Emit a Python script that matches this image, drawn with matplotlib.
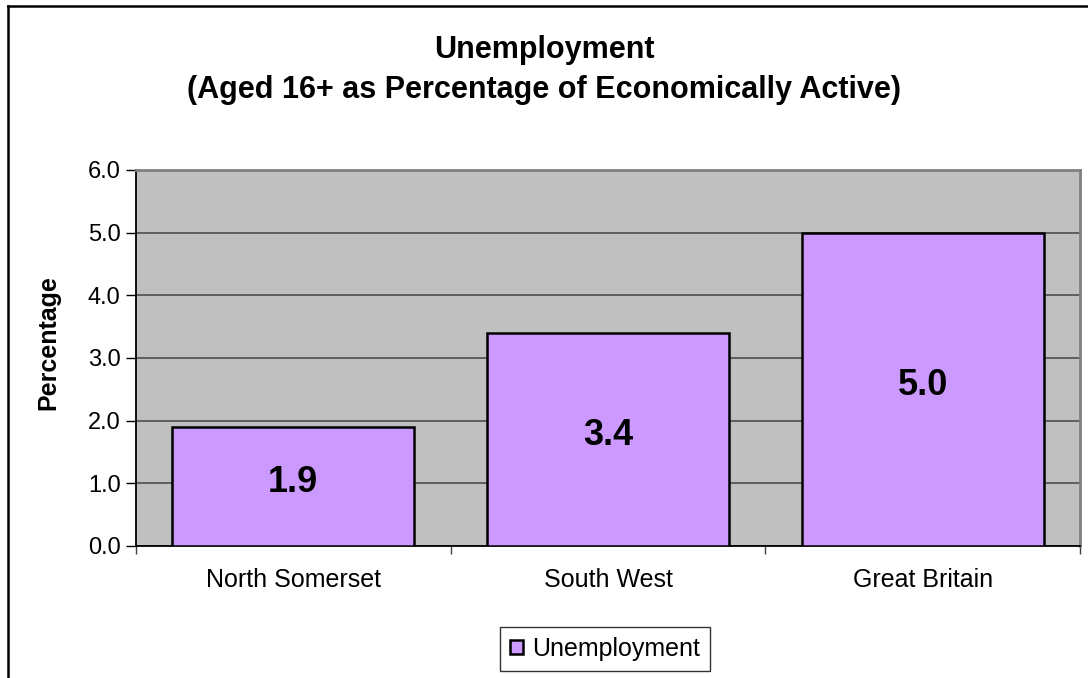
import matplotlib
matplotlib.use("Agg")
import matplotlib.pyplot as plt
from matplotlib.lines import Line2D

plt.rcParams["font.family"] = ["Liberation Sans", "DejaVu Sans"]

regions = ["North Somerset", "South West", "Great Britain"]
unemployment = [1.9, 3.4, 5.0]
yticks = [0.0, 1.0, 2.0, 3.0, 4.0, 5.0, 6.0]

W, H = 1088, 678
fig = plt.figure(figsize=(W / 100, H / 100), dpi=100)
ax = fig.add_axes([136 / W, (H - 546) / H, (1080 - 136) / W, (546 - 170) / H])

# chart frame around the whole figure (bottom and right run off the edge)
fig.add_artist(Line2D([8 / W, 8 / W], [0, 1 - 6 / H], transform=fig.transFigure, color="black", lw=1.8))
fig.add_artist(Line2D([8 / W, 1], [1 - 6 / H, 1 - 6 / H], transform=fig.transFigure, color="black", lw=1.8))

ax.set_facecolor("#C0C0C0")
ax.set_axisbelow(True)
ax.yaxis.grid(True, color="#5f5f5f", lw=1.4)

x = range(len(regions))
bars = ax.bar(x, unemployment, width=0.77, color="#CC99FF", edgecolor="black", lw=1.8, zorder=3,
              label="Unemployment")
for xi, v in zip(x, unemployment):
    ax.annotate(f"{v:.1f}", (xi, v / 2), xytext=(0, 3), textcoords="offset points",
                ha="center", va="center", fontsize=26, fontweight="bold", zorder=4)

ax.set_xlim(-0.5, 2.5)
ax.set_ylim(0, 6)
ax.set_yticks(yticks)
ax.set_yticklabels([f"{t:.1f}" for t in yticks], fontsize=17)
ax.tick_params(axis="y", length=7, width=1, color="black", pad=4)

# category boundaries get the tick marks, names sit between them
ax.set_xticks([-0.5, 0.5, 1.5, 2.5])
ax.set_xticklabels([])
ax.tick_params(axis="x", which="major", length=6, width=1, color="#404040")
ax.set_xticks(list(x), minor=True)
ax.set_xticklabels(regions, minor=True, fontsize=18)
ax.tick_params(axis="x", which="minor", length=0, pad=16)

for side in ("top", "right"):
    ax.spines[side].set_color("#808080")
    ax.spines[side].set_linewidth(2)
for side in ("left", "bottom"):
    ax.spines[side].set_color("black")
    ax.spines[side].set_linewidth(1.3)

ax.set_ylabel("Percentage", fontsize=18, fontweight="bold")
ax.yaxis.set_label_coords(60 / W, 0.5 - 4 / H, transform=fig.transFigure)

fig.text(0.5, 1 - 58 / H, "Unemployment", ha="center", va="baseline", fontsize=22, fontweight="bold")
fig.text(0.5, 1 - 98 / H, "(Aged 16+ as Percentage of Economically Active)", ha="center", va="baseline",
         fontsize=22, fontweight="bold")

leg = fig.legend(handles=[bars], labels=["Unemployment"], loc="center", bbox_to_anchor=(605 / W, 1 - 649 / H),
                 fontsize=18, frameon=True, fancybox=False, edgecolor="black", handlelength=0.5,
                 handleheight=0.5, handletextpad=0.35, borderpad=0.4, borderaxespad=0)
leg.get_frame().set_linewidth(1)

fig.savefig("out.png", dpi=100)
